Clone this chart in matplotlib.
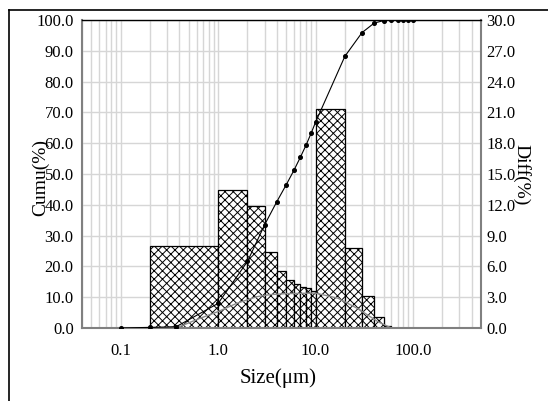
import matplotlib
matplotlib.use("Agg")
import matplotlib.pyplot as plt
import numpy as np
from matplotlib.lines import Line2D
from matplotlib.ticker import LogLocator, NullFormatter, FixedLocator

# Histogram of differential distribution (right axis, %)
bin_edges = [0.2, 1.0, 2.0, 3.0, 4.0, 5.0, 6.0, 7.0, 8.0, 9.0, 10.0, 20.0, 30.0, 40.0, 50.0, 60.0]
diff_pct = [8.0, 13.4, 11.9, 7.4, 5.6, 4.7, 4.3, 4.0, 3.85, 3.6, 21.3, 7.8, 3.15, 1.05, 0.15]

# Cumulative curve (left axis, %)
cum_size = [0.1, 0.2, 0.37, 1.0, 2.0, 3.0, 4.0, 5.0, 6.0, 7.0, 8.0, 9.0, 10.0,
            20.0, 30.0, 40.0, 50.0, 60.0, 70.0, 80.0, 90.0, 100.0]
cum_pct = [0.0, 0.2, 0.4, 8.0, 21.6, 33.5, 41.0, 46.5, 51.2, 55.5, 59.4, 63.2, 66.8,
           88.2, 95.9, 99.0, 99.8, 100.0, 100.0, 100.0, 100.0, 100.0]

# Smoothed frequency curve (right axis, %)
freq_size = [0.25, 0.4, 0.65, 1.0, 1.55, 2.5, 3.4, 5.0, 10.0, 17.0, 27.0, 44.0, 60.0]
freq_pct = [0.0, 0.13, 0.94, 1.6, 2.4, 3.05, 3.25, 3.35, 3.4, 2.9, 1.9, 0.6, 0.0]

x_ticks = [0.1, 1.0, 10.0, 100.0]
x_ticklabels = ["0.1", "1.0", "10.0", "100.0"]

plt.rcParams['font.family'] = ['Liberation Serif', 'DejaVu Serif']
plt.rcParams['hatch.linewidth'] = 0.7

W, H = 548, 401
fig = plt.figure(figsize=(W / 100, H / 100), dpi=100)
ax = fig.add_axes([82 / W, 1 - 328 / H, 399 / W, 308 / H])
ax.set_xscale('log')
ax.set_xlim(0.04, 500)
ax.set_ylim(0, 100)
ax2 = ax.twinx()
ax2.set_ylim(0, 30)
ax2.xaxis.set_visible(True)   # twinx hides it; needed for the vertical grid

# right axis below, left axis (cumulative) on top
ax.set_zorder(2)
ax2.set_zorder(1)
ax.patch.set_visible(False)

ax.xaxis.set_major_locator(FixedLocator(x_ticks))
ax.set_xticklabels(x_ticklabels)
ax.xaxis.set_minor_locator(LogLocator(base=10, subs=np.arange(2, 10), numticks=20))
ax.xaxis.set_minor_formatter(NullFormatter())

grid_c = '#d6d6d6'
ax2.set_axisbelow(True)
ax2.xaxis.grid(True, which='both', color=grid_c, lw=1.0)
ax2.yaxis.grid(True, which='major', color=grid_c, lw=1.0)

left = np.array(bin_edges[:-1])
right = np.array(bin_edges[1:])
ax2.bar(left, diff_pct, width=right - left, align='edge', color='white',
        edgecolor='black', linewidth=0.9, hatch='xxxx', zorder=2)
ax2.plot(freq_size, freq_pct, color='#8c8c8c', lw=1.0, zorder=3)

ax.plot(cum_size, cum_pct, color='black', lw=0.8, marker='o', ms=2.6, zorder=4)

ax.set_yticks(np.arange(0, 101, 10))
ax.set_yticklabels([f"{v:.1f}" for v in np.arange(0, 101, 10)])
ax2.set_yticks(np.arange(0, 31, 3))
ax2.set_yticklabels([f"{v:.1f}" for v in np.arange(0, 31, 3)])

ax.tick_params(axis='both', which='both', length=0, labelsize=12)
ax.tick_params(axis='x', pad=11)
ax.tick_params(axis='y', pad=6)
ax2.tick_params(axis='both', which='both', length=0, labelsize=12)
ax2.tick_params(axis='x', which='both', labelbottom=False, labeltop=False)
ax2.tick_params(axis='y', pad=4)

for a in (ax, ax2):
    for s in a.spines.values():
        s.set_visible(False)
ax.spines['top'].set_visible(True)
ax.spines['top'].set_color('black')
ax.spines['top'].set_linewidth(1.0)
for side in ('left', 'bottom'):
    ax.spines[side].set_visible(True)
    ax.spines[side].set_color('#808080')
    ax.spines[side].set_linewidth(1.5)
ax2.spines['right'].set_visible(True)
ax2.spines['right'].set_color('#808080')
ax2.spines['right'].set_linewidth(1.5)

fig.text(41 / W, 1 - 178 / H, "Cumu(%)", rotation=90, ha='center', va='center', fontsize=14)
fig.text(521 / W, 1 - 175 / H, "Diff(%)", rotation=270, ha='center', va='center', fontsize=14)
fig.text(278 / W, 1 - 378 / H, "Size(\u03bcm)", ha='center', va='center', fontsize=15)

# outer frame (top and left edges visible)
fig.add_artist(Line2D([9 / W, 1.0], [1 - 10 / H, 1 - 10 / H], transform=fig.transFigure,
                      color='black', lw=1.2))
fig.add_artist(Line2D([9 / W, 9 / W], [1 - 10 / H, 0.0], transform=fig.transFigure,
                      color='black', lw=1.2))

fig.savefig("out.png", dpi=100)
